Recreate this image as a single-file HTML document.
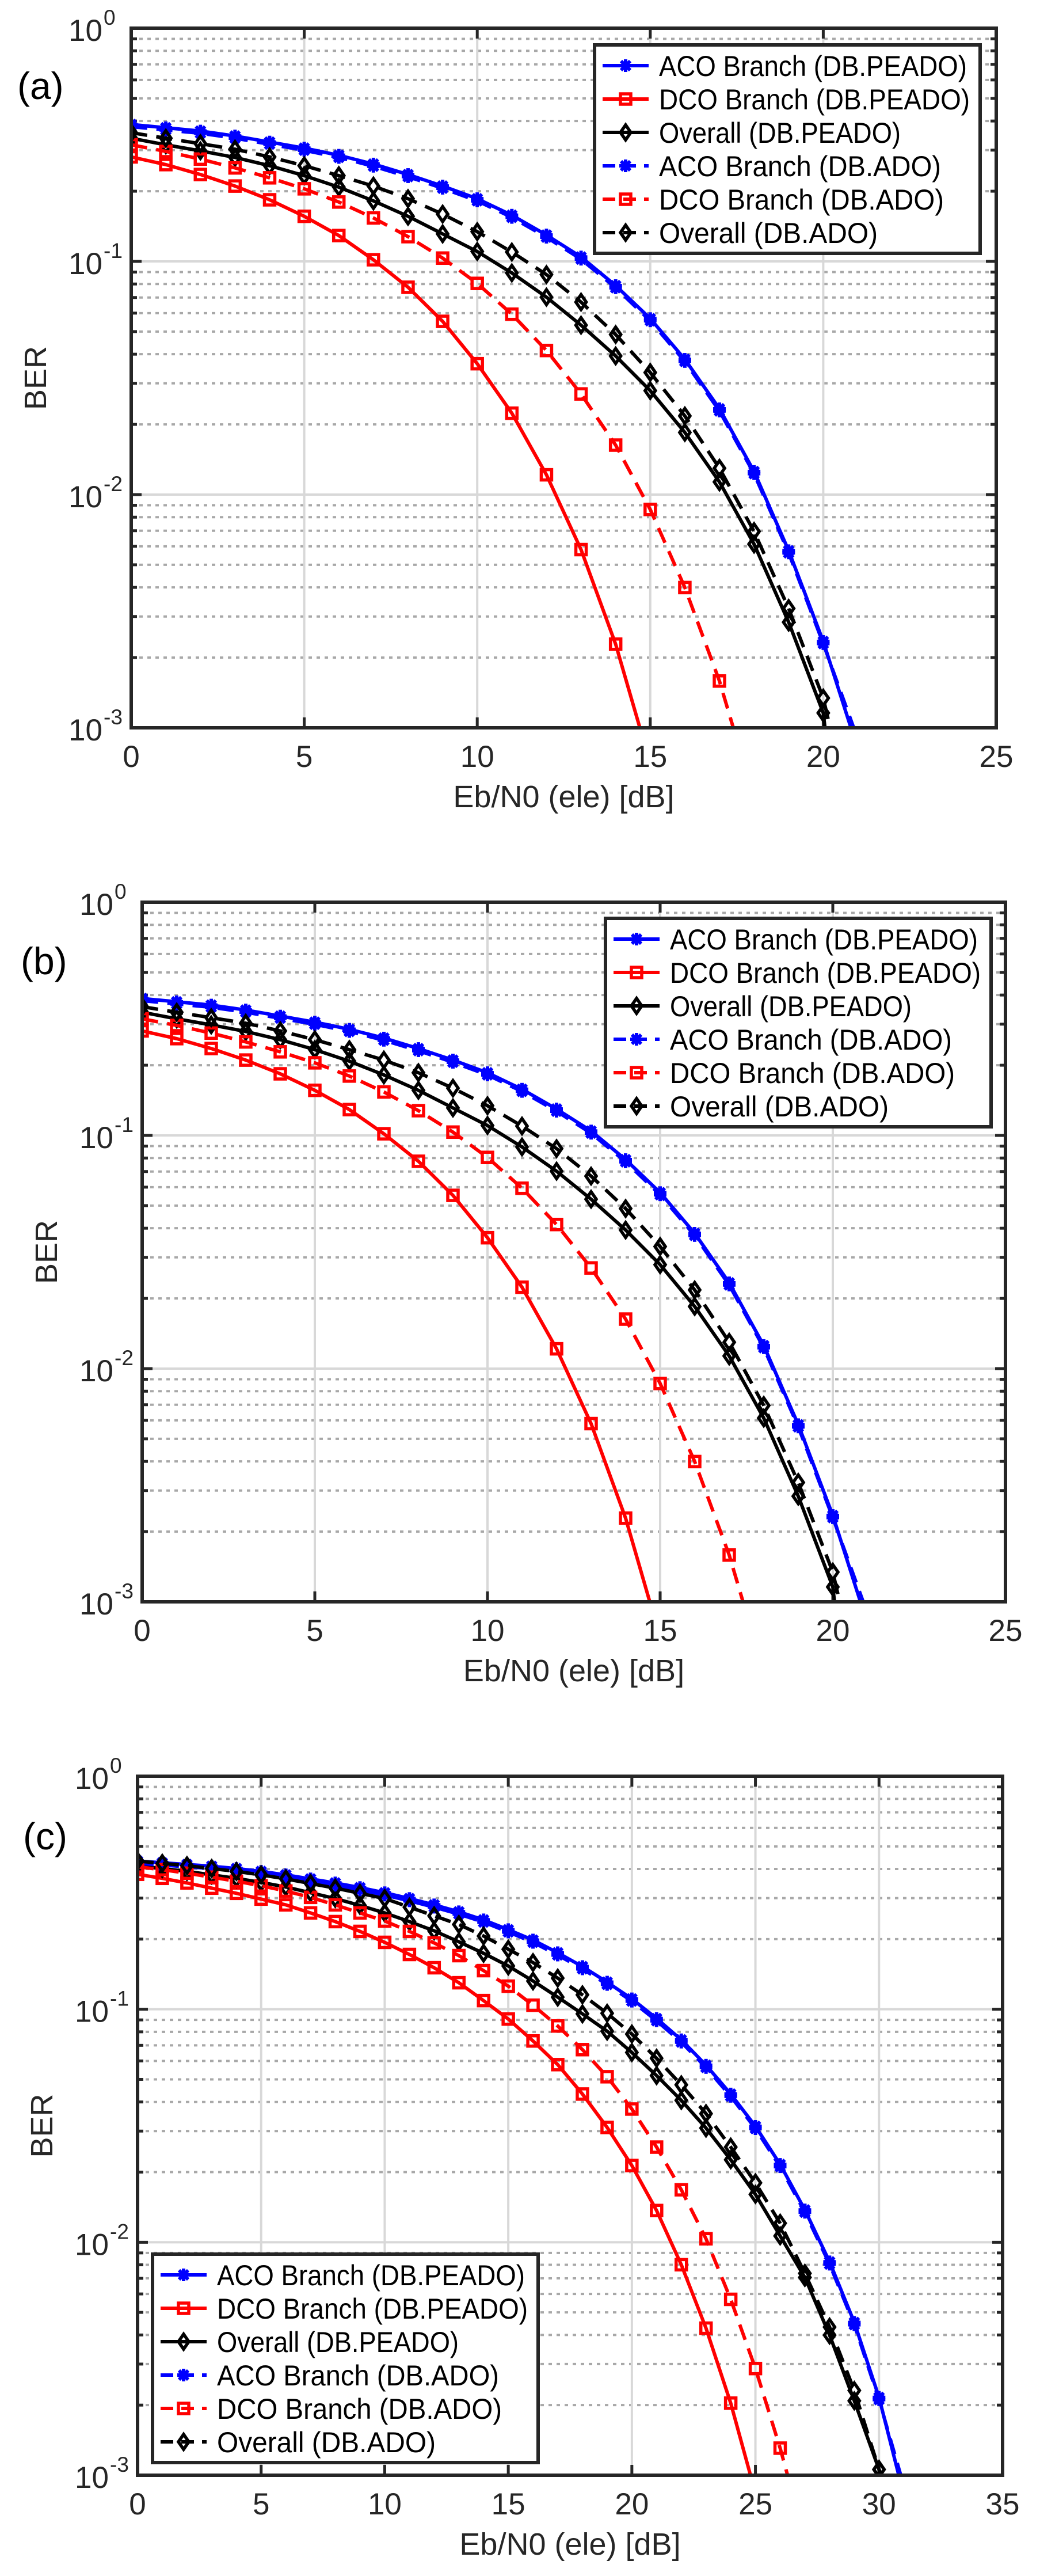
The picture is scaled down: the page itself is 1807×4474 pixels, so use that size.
<!DOCTYPE html>
<html><head><meta charset="utf-8"><style>
html,body{margin:0;padding:0;background:#fff;}
svg{display:block;font-family:"Liberation Sans",Arial,sans-serif;}
</style></head><body>
<svg id="s" width="1807" height="4474" viewBox="0 0 1807 4474" xmlns="http://www.w3.org/2000/svg"></svg>
<script>
const S=document.getElementById('s');let out='';
function mapA(y){return -(y-50)/424;}
function mapC(y){return -(y-183)/404;}
const A={
 acoP:[225,231,237,246,257,268,281,297,316,337,360,390,426,466,518,578,652,742,856,1000,1165],acoPend:[20.8,1322],
 dcoP:[284,298,316,337,362,392,427,471,521,583,660,750,862,998,1170],dcoPend:[14.7,1322],
 dcoA:[262,274,288,304,322,342,366,395,429,468,514,570,636,715,808,925,1067,1237],dcoAend:[17.4,1322],
 ovP:[250,262,273,285,300,318,339,364,392,424,456,495,539,590,646,709,785,875,988,1130,1295],ovPend:[20.05,1322],
 ovA:[240,250,260,270,284,300,318,337,360,388,420,457,498,548,607,676,755,850,965,1105,1268],ovAend:[20.2,1322]
};
const C={
 acoP:[330,333,336,339,343,348,354,361,368,376,385,395,406,418,432,449,467,489,513,540,569,603,640,684,734,790,856,935,1025,1130,1260],acoPend:[30.8,1395],
 dcoP:[353,360,368,377,386,396,406,420,435,452,471,492,515,541,572,604,642,683,734,792,858,936,1030,1140,1270],dcoPend:[24.8,1395],
 dcoA:[340,345,351,358,365,373,382,393,406,420,434,452,472,494,520,547,580,616,657,704,760,826,900,985,1090,1210,1348],dcoAend:[26.3,1395],
 ovP:[338,343,348,354,360,367,375,385,395,407,420,435,451,470,490,512,538,566,595,625,662,702,745,793,848,908,980,1052,1152,1266,1385],ovPend:[30.02,1395],
 ovA:[330,334,338,343,348,354,361,369,377,386,395,410,425,440,460,483,506,533,562,594,630,672,718,768,826,888,958,1045,1138,1248,1385],ovAend:[30.1,1395]
};
function marker(t,x,y,c){
 if(t==='star'){return `<g stroke="${c}" stroke-width="6"><line x1="${x-11}" y1="${y}" x2="${x+11}" y2="${y}"/><line x1="${x}" y1="${y-11}" x2="${x}" y2="${y+11}"/><line x1="${x-8}" y1="${y-8}" x2="${x+8}" y2="${y+8}"/><line x1="${x-8}" y1="${y+8}" x2="${x+8}" y2="${y-8}"/></g><circle cx="${x}" cy="${y}" r="8" fill="${c}"/>`;}
 if(t==='sq'){return `<rect x="${x-9}" y="${y-9}" width="18" height="18" fill="none" stroke="${c}" stroke-width="5.5"/>`;}
 return `<polygon points="${x},${y-13} ${x+9},${y} ${x},${y+13} ${x-9},${y}" fill="none" stroke="${c}" stroke-width="5.5"/>`;
}
function plot(P,xmax,map,D,legend,lab,labY){
 const {L,R,T,B}=P;const W=R-L,H=B-T;
 const X=v=>L+v/xmax*W, Y=l=>T+(-l)/3*H;
 for(let d=0;d<3;d++){for(let m=2;m<=9;m++){const y=Y(-(d+1)+Math.log10(m));out+=`<line x1="${L}" y1="${y}" x2="${R}" y2="${y}" stroke="#a8a8a8" stroke-width="4" stroke-dasharray="6,8"/>`;out+=`<line x1="${L}" y1="${y}" x2="${L+10}" y2="${y}" stroke="#262626" stroke-width="5"/><line x1="${R-10}" y1="${y}" x2="${R}" y2="${y}" stroke="#262626" stroke-width="5"/>`;}}
 for(let d=1;d<3;d++){const y=Y(-d);out+=`<line x1="${L}" y1="${y}" x2="${R}" y2="${y}" stroke="#d8d8d8" stroke-width="4"/><line x1="${L}" y1="${y}" x2="${L+18}" y2="${y}" stroke="#262626" stroke-width="5"/><line x1="${R-18}" y1="${y}" x2="${R}" y2="${y}" stroke="#262626" stroke-width="5"/>`;}
 for(let v=5;v<xmax;v+=5){const x=X(v);out+=`<line x1="${x}" y1="${T}" x2="${x}" y2="${B}" stroke="#d8d8d8" stroke-width="4"/><line x1="${x}" y1="${T}" x2="${x}" y2="${T+18}" stroke="#262626" stroke-width="5"/><line x1="${x}" y1="${B-18}" x2="${x}" y2="${B}" stroke="#262626" stroke-width="5"/>`;}
 const ser=[['acoP','#0000ff','star',0,0],['dcoP','#ff0000','sq',0,0],['ovP','#000','dia',0,0],['acoP','#0000ff','star',1,4],['dcoA','#ff0000','sq',1,0],['ovA','#000','dia',1,0]];
 out+=`<clipPath id="c${T}"><rect x="${L}" y="${T}" width="${W}" height="${H}"/></clipPath><g clip-path="url(#c${T})">`;
 for(const [k,c,m,dash,off] of ser){
  const arr=D[k], end=D[k+'end'];
  const pts=arr.map((y,i)=>[X(i),Y(map(y+off))]);
  const all=pts.concat([[X(end[0]+(off?0.08:0)),Y(map(end[1]))]]);
  out+=`<polyline points="${all.map(p=>p.join(',')).join(' ')}" fill="none" stroke="${c}" stroke-width="6" ${dash?'stroke-dasharray="28,16"':''}/>`;
  for(const p of pts) out+=marker(m,p[0],p[1],c);
 }
 out+=`</g>`;
 out+=`<rect x="${L}" y="${T}" width="${W}" height="${H}" fill="none" stroke="#262626" stroke-width="6"/>`;
 for(let d=0;d<=3;d++){const y=Y(-d);out+=`<text x="${L-50}" y="${y+22}" font-size="53" text-anchor="end" fill="#262626">10</text><text x="${L-48}" y="${y-6}" font-size="37" fill="#262626">${d?'-'+d:'0'}</text>`;}
 for(let v=0;v<=xmax;v+=5){out+=`<text x="${X(v)}" y="${B+68}" font-size="53" text-anchor="middle" fill="#262626">${v}</text>`;}
 out+=`<text x="${(L+R)/2}" y="${B+138}" font-size="54" text-anchor="middle" fill="#262626">Eb/N0 (ele) [dB]</text>`;
 out+=`<text transform="translate(${L-148},${(T+B)/2}) rotate(-90)" font-size="54" text-anchor="middle" fill="#262626">BER</text>`;
 out+=`<text x="${lab[0]}" y="${labY}" font-size="66" fill="#000">${lab[1]}</text>`;
 const [lx,ly]=legend;const lw=670,lh=362;
 out+=`<rect x="${lx}" y="${ly}" width="${lw}" height="${lh}" fill="#fff" stroke="#262626" stroke-width="6"/>`;
 const names=['ACO Branch (DB.PEADO)','DCO Branch (DB.PEADO)','Overall (DB.PEADO)','ACO Branch (DB.ADO)','DCO Branch (DB.ADO)','Overall (DB.ADO)'];
 ser.forEach(([k,c,m,dash],i)=>{const y=ly+36+i*58;out+=`<line x1="${lx+14}" y1="${y}" x2="${lx+94}" y2="${y}" stroke="${c}" stroke-width="6" ${dash?'stroke-dasharray="22,14"':''}/>`+marker(m,lx+54,y,c)+`<text x="${lx+112}" y="${y+18}" font-size="50" textLength="${[535,540,420,490,495,380][i]}" lengthAdjust="spacingAndGlyphs" fill="#000">${names[i]}</text>`;});
}
plot({L:228,R:1731,T:49,B:1264},25,mapA,A,[1033,78],[30,'(a)'],172);
plot({L:247,R:1747,T:1567,B:2782},25,mapA,A,[1052,1595],[36,'(b)'],1692);
plot({L:239,R:1742,T:3085,B:4299},35,mapC,C,[265,3915],[40,'(c)'],3212);
S.innerHTML=out;
</script>
</body></html>
